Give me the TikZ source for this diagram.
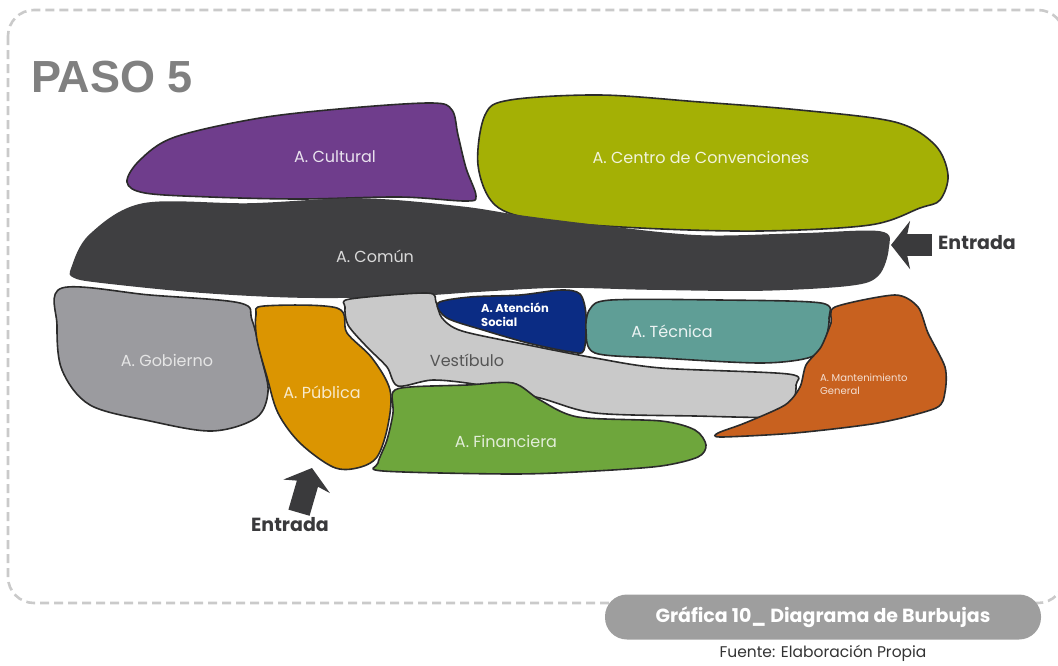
\documentclass[tikz,border=0pt]{standalone}
\usepackage{fontspec}
\setmainfont{Poppins}
\newfontfamily\headfont{Liberation Sans}
\usetikzlibrary{arrows.meta,positioning}
\definecolor{bubblepurple}{HTML}{6F3D8C}
\definecolor{bubbleolive}{HTML}{A4B005}
\definecolor{bubbledark}{HTML}{3F3F41}
\definecolor{bubblegray}{HTML}{9B9B9F}
\definecolor{bubbleamber}{HTML}{DB9501}
\definecolor{bubblelight}{HTML}{C9C9C9}
\definecolor{bubblenavy}{HTML}{0B2C84}
\definecolor{bubbleteal}{HTML}{5F9E96}
\definecolor{bubblegreen}{HTML}{6EA63C}
\definecolor{bubblerust}{HTML}{C8611F}
\definecolor{ink}{HTML}{2B2B2B}
\definecolor{arrowink}{HTML}{3A3A3C}
\definecolor{framegray}{HTML}{CACACA}
\definecolor{pillgray}{HTML}{9E9E9E}
\definecolor{muted}{HTML}{555555}

\begin{document}
\begin{tikzpicture}[
  x=1pt,y=-1pt,
  line join=round,
  bubble/.style={draw=ink,line width=1.6pt},
  tag/.style={inner sep=1pt,font=\fontsize{16}{18}\selectfont},
  smalltag/.style={inner sep=0pt,align=left},
  entry/.style={draw=arrowink,line width=22pt,
                -{Stealth[length=19pt,width=48pt,inset=5pt]}},
  entrytext/.style={inner sep=1pt,text=arrowink,font=\bfseries\fontsize{19}{21}\selectfont}
]
\useasboundingbox (0,0) rectangle (1058,665);
% dashed frame
\draw[framegray,line width=2.6pt,dash pattern=on 9pt off 5pt,rounded corners=26pt]
  (8,10) rectangle (1064,603);
\node[anchor=west,inner sep=0pt,text=black!50,font=\headfont\bfseries\fontsize{45}{48}\selectfont]
  (paso) at (31,77) {PASO 5};

% bubbles
\draw[bubble,fill=bubblepurple] plot[smooth cycle,tension=.55] coordinates {
  (127,182) (140,160) (175,137) (260,118) (350,108) (432,103) (452,110) (458,135)
  (466,168) (476,196) (465,201) (400,197) (300,199) (210,197) (145,193)};
\draw[bubble,fill=bubbleolive] plot[smooth cycle,tension=.55] coordinates {
  (478,165) (485,115) (510,100) (600,95) (700,102) (800,110) (895,122) (935,145)
  (948,175) (940,200) (920,208) (870,225) (760,231) (640,228) (540,220) (495,205)};
\draw[bubble,draw=bubbledark,fill=bubbledark] plot[smooth cycle,tension=.55] coordinates {
  (72,268) (90,235) (143,204) (250,204) (360,199) (460,207) (520,216) (600,226)
  (700,236) (800,234) (880,232) (888,248) (878,275) (850,285) (760,290) (650,289)
  (560,287) (480,291) (400,296) (300,297) (200,292) (100,282) (74,277)};
\draw[bubble,fill=bubblegray] plot[smooth cycle,tension=.55] coordinates {
  (62,288) (150,295) (240,303) (252,320) (262,360) (268,392) (256,418) (212,431)
  (150,421) (90,405) (62,370) (57,325)};
\draw[bubble,fill=bubbleamber] plot[smooth cycle,tension=.55] coordinates {
  (256,315) (264,306) (337,308) (347,333) (372,358) (390,390) (388,425) (377,457)
  (357,468) (333,467) (300,443) (278,413) (267,377) (257,340)};
\draw[bubble,fill=bubblelight] plot[smooth cycle,tension=.5] coordinates {
  (345,307) (350,299) (427,293) (436,302) (442,318) (462,331) (528,345) (595,358)
  (661,368) (788,374) (796,385) (792,407) (780,417) (695,416) (595,413) (540,398)
  (480,385) (433,380) (398,386) (387,367) (367,347) (348,325)};
\draw[bubble,fill=bubblegreen] plot[smooth cycle,tension=.5] coordinates {
  (393,392) (410,387) (467,385) (513,383) (540,400) (578,417) (661,421) (695,430)
  (706,445) (698,457) (661,466) (595,471) (513,474) (383,471) (378,463) (387,440)
  (393,413)};
\draw[bubble,fill=bubblenavy] plot[smooth cycle,tension=.5] coordinates {
  (438,303) (470,297) (520,295) (561,290) (580,294) (586,315) (584,350) (571,352)
  (528,343) (483,330) (447,318)};
\draw[bubble,fill=bubbleteal] plot[smooth cycle,tension=.5] coordinates {
  (586,330) (590,309) (611,300) (720,300) (821,303) (829,318) (825,340) (811,357)
  (761,363) (661,358) (595,353)};
\draw[bubble,fill=bubblerust] plot[smooth cycle,tension=.45] coordinates {
  (835,307) (895,295) (918,307) (928,333) (945,367) (945,392) (936,408) (878,423)
  (795,433) (721,437) (718,433) (745,423) (785,405) (800,387) (806,365) (821,347)
  (831,323)};

% labels
\node[tag,text=bubblepurple!15] (cultural) at (335,157) {A. Cultural};
\node[tag,text=bubbleolive!15] (convenciones) at (701,157) {A. Centro de Convenciones};
\node[tag,text=black!15] (comun) at (375,256) {A. Común};
\node[tag,text=black!10] (gobierno) at (167,360) {A. Gobierno};
\node[tag,text=bubbleamber!20] (publica) at (322,392) {A. Pública};
\node[tag,text=muted] (vestibulo) at (467,360) {Vestíbulo};
\node[tag,text=bubblegreen!20] (financiera) at (506,441) {A. Financiera};
\node[tag,text=bubbleteal!12] (tecnica) at (672,331) {A. Técnica};
\node[smalltag,anchor=west,text=white,font=\bfseries\fontsize{11.5}{14}\selectfont]
  (atencion) at (481,315) {A. Atención\\Social};
\node[smalltag,anchor=west,text=bubblerust!20,font=\fontsize{10}{12.5}\selectfont]
  (mantenimiento) at (820,384) {A. Mantenimiento\\General};

% entrances
\node[entrytext,anchor=west] (entradaE) at (937,243) {Entrada};
\node[entrytext] (entradaS) at (290,525) {Entrada};
\coordinate (inE) at (891,245);
\coordinate (inS) at (312,468);
\draw[entry] ([xshift=-5pt,yshift=-2pt]entradaE.west) -- (inE);
\draw[entry] ([xshift=9pt,yshift=4pt]entradaS.north) -- (inS);

% caption
\node[fill=pillgray,rounded corners=22pt,minimum width=436pt,minimum height=45pt,
  text=white,font=\bfseries\fontsize{19}{21}\selectfont] (grafica) at (823,617)
  {Gráfica 10\_ Diagrama de Burbujas};
\node[below=4pt of grafica,text=black!80,font=\fontsize{15.5}{18}\selectfont,inner sep=1pt]
  (fuente) {Fuente: Elaboración Propia};
\end{tikzpicture}
\end{document}
